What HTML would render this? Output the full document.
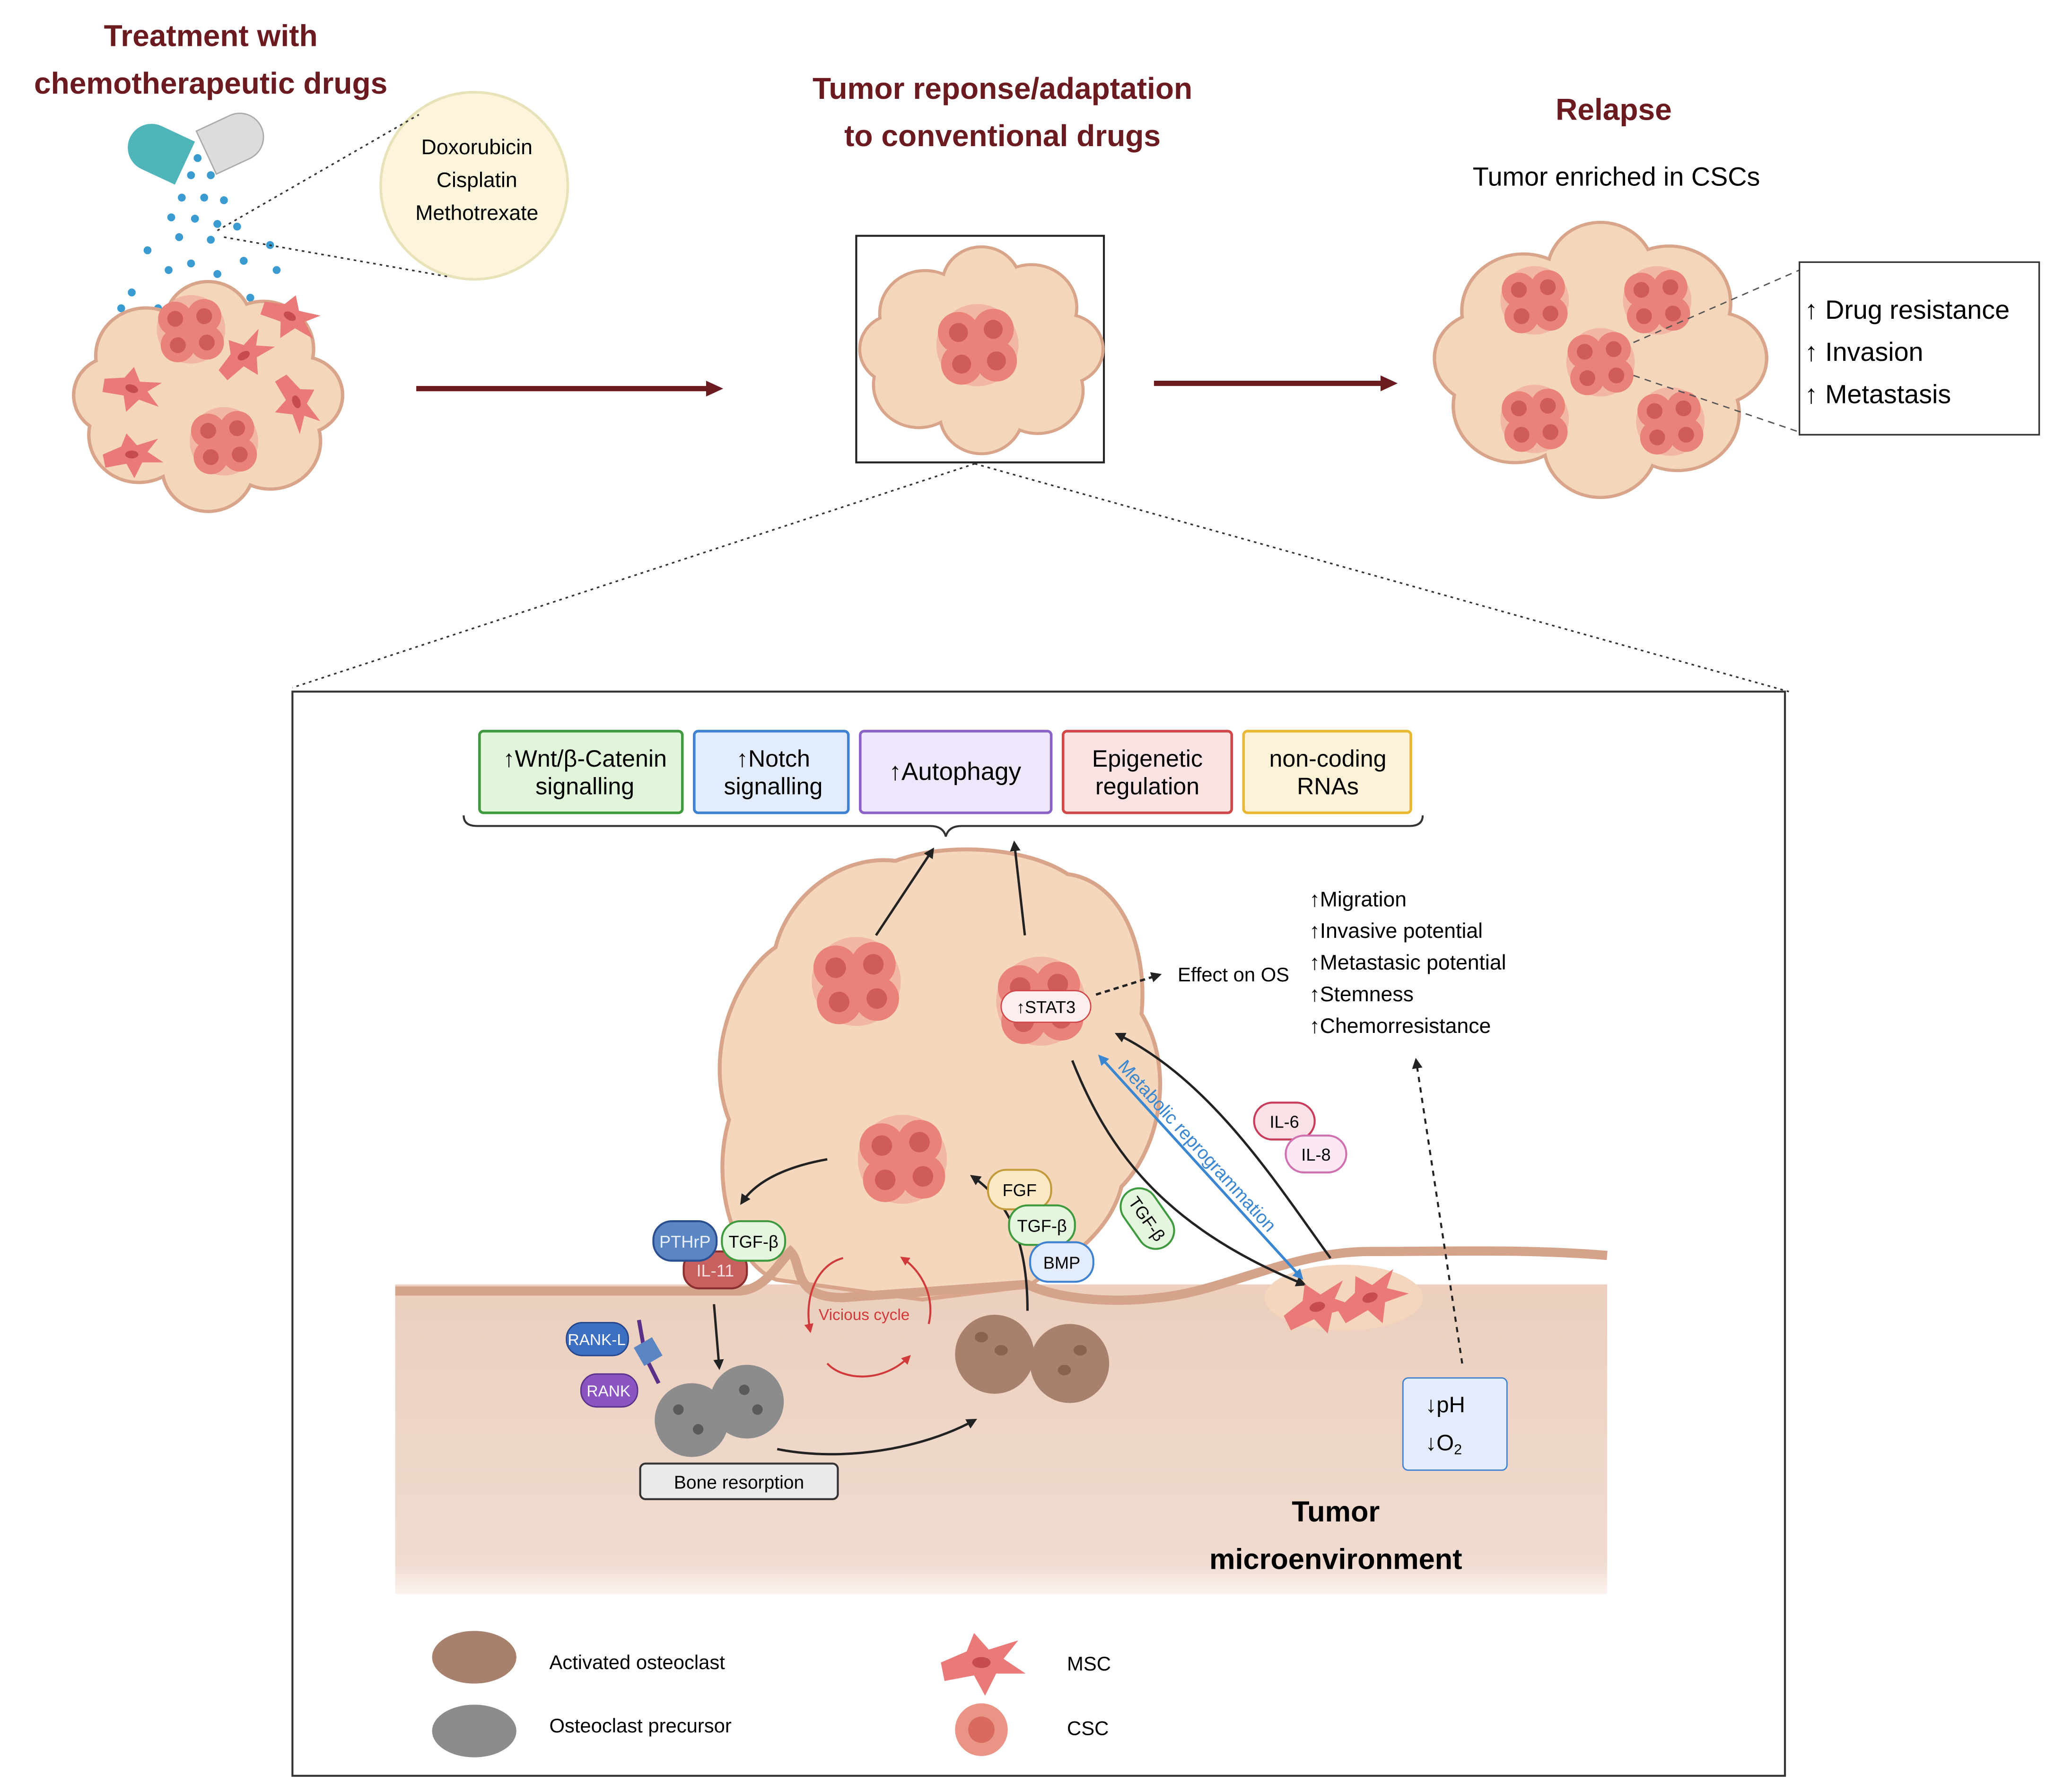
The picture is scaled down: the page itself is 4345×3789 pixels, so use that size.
<!DOCTYPE html>
<html><head><meta charset="utf-8"><style>
html,body{margin:0;padding:0;background:#fff}
svg{display:block}
text{font-family:"Liberation Sans",sans-serif}
</style></head><body>
<svg width="4345" height="3789" viewBox="0 0 1560 1360.3" preserveAspectRatio="none" xmlns="http://www.w3.org/2000/svg">
<defs>
<g id="csc">
 <circle cx="0" cy="0" r="26" fill="#f0a89a" opacity="0.7"/>
 <circle cx="-12" cy="-8" r="13" fill="#e98278"/><circle cx="10" cy="-10" r="13" fill="#e98278"/>
 <circle cx="-10" cy="12" r="13" fill="#e98278"/><circle cx="12" cy="10" r="13" fill="#e98278"/><circle cx="0" cy="0" r="12" fill="#e98278"/>
 <circle cx="-12" cy="-8" r="6" fill="#cf5c56"/><circle cx="10" cy="-10" r="6" fill="#cf5c56"/>
 <circle cx="-10" cy="12" r="6" fill="#cf5c56"/><circle cx="12" cy="10" r="6" fill="#cf5c56"/>
</g>
<g id="msc"><path d="M-22,0 L-8,-6 L-4,-16 L4,-7 L20,-12 L12,-2 L24,6 L8,6 L2,18 L-4,7 L-20,10 Z" fill="#ea7a78"/><ellipse cx="0" cy="0" rx="5" ry="3" fill="#c64c50"/></g>
<g id="blobS">
 <circle cx="0" cy="0" r="60"/><circle cx="-45" cy="-30" r="35"/><circle cx="40" cy="-35" r="35"/>
 <circle cx="-50" cy="30" r="35"/><circle cx="45" cy="35" r="35"/><circle cx="0" cy="-55" r="30"/><circle cx="0" cy="55" r="32"/>
 <circle cx="-68" cy="0" r="28"/><circle cx="68" cy="0" r="28"/>
</g>
<linearGradient id="bone" x1="0" y1="0" x2="0" y2="1"><stop offset="0" stop-color="#eccfbd"/><stop offset="0.9" stop-color="#f0dbd0"/><stop offset="1" stop-color="#fbf3ef"/></linearGradient>
<marker id="ar" markerWidth="8" markerHeight="8" refX="6" refY="4" orient="auto" markerUnits="userSpaceOnUse"><path d="M0,0 L8,4 L0,8 Z" fill="#222"/></marker>
<marker id="arB" markerWidth="8" markerHeight="8" refX="6" refY="4" orient="auto-start-reverse" markerUnits="userSpaceOnUse"><path d="M0,0 L8,4 L0,8 Z" fill="#3b86d0"/></marker>
<marker id="arR" markerWidth="7" markerHeight="7" refX="5" refY="3.5" orient="auto" markerUnits="userSpaceOnUse"><path d="M0,0 L7,3.5 L0,7 Z" fill="#d03a3a"/></marker>
</defs>

<g font-weight="bold" fill="#6b1a1f" font-size="23" text-anchor="middle">
<text x="160" y="35">Treatment with</text><text x="160" y="71">chemotherapeutic drugs</text>
<text x="761" y="75">Tumor reponse/adaptation</text><text x="761" y="111">to conventional drugs</text>
<text x="1225" y="91">Relapse</text>
</g>
<text x="1227" y="141" font-size="20" text-anchor="middle">Tumor enriched in CSCs</text>

<g transform="translate(115,112) rotate(25)">
<path d="M28,-18 L0,-18 A18,18 0 0 0 0,18 L28,18 Z" fill="#4fb5b8"/>
</g>
<g transform="translate(182,104) rotate(-25)">
<path d="M-28,-18 L0,-18 A18,18 0 0 1 0,18 L-28,18 Z" fill="#dcdcdc" stroke="#aaa"/>
</g>
<g fill="#3a9bd0">
<circle cx="150" cy="120" r="3"/><circle cx="145" cy="133" r="3"/><circle cx="160" cy="133" r="3"/><circle cx="138" cy="150" r="3"/><circle cx="155" cy="150" r="3"/><circle cx="170" cy="152" r="3"/><circle cx="130" cy="165" r="3"/><circle cx="148" cy="166" r="3"/><circle cx="165" cy="170" r="3"/><circle cx="180" cy="172" r="3"/><circle cx="136" cy="180" r="3"/><circle cx="160" cy="182" r="3"/><circle cx="205" cy="186" r="3"/><circle cx="112" cy="190" r="3"/><circle cx="145" cy="200" r="3"/><circle cx="185" cy="198" r="3"/><circle cx="128" cy="205" r="3"/><circle cx="165" cy="208" r="3"/><circle cx="210" cy="205" r="3"/><circle cx="100" cy="222" r="3"/><circle cx="145" cy="224" r="3"/><circle cx="190" cy="226" r="3"/><circle cx="120" cy="234" r="3"/><circle cx="203" cy="236" r="3"/><circle cx="92" cy="234" r="3"/><circle cx="140" cy="242" r="3"/>
</g>
<circle cx="360" cy="141" r="71" fill="#fcf5dc" stroke="#e8e2b8" stroke-width="2"/>
<g font-size="16" text-anchor="middle"><text x="362" y="117">Doxorubicin</text><text x="362" y="142">Cisplatin</text><text x="362" y="167">Methotrexate</text></g>
<g stroke="#333" stroke-dasharray="2,3" stroke-width="1.2"><line x1="165" y1="175" x2="318" y2="87"/><line x1="170" y1="180" x2="340" y2="210"/></g>

<g transform="translate(158,300) scale(1.05,1.0)"><use href="#blobS" fill="#f3d3b6" stroke="#d9a58a" stroke-width="5"/><use href="#blobS" fill="#f4d6bb"/></g>
<use href="#csc" transform="translate(145,250)"/><use href="#csc" transform="translate(170,335)"/>
<use href="#msc" transform="translate(100,295) rotate(20)"/><use href="#msc" transform="translate(185,270) rotate(-30)"/><use href="#msc" transform="translate(225,305) rotate(70)"/><use href="#msc" transform="translate(100,345)"/><use href="#msc" transform="translate(220,240) rotate(30)"/>

<line x1="316" y1="295" x2="538" y2="295" stroke="#6b1a1f" stroke-width="4"/><path d="M536,289 L549,295 L536,301 Z" fill="#6b1a1f"/>
<line x1="876" y1="291" x2="1050" y2="291" stroke="#6b1a1f" stroke-width="4"/><path d="M1048,285 L1061,291 L1048,297 Z" fill="#6b1a1f"/>

<rect x="650" y="179" width="188" height="172" fill="#fff" stroke="#222" stroke-width="1.5"/>
<g transform="translate(745,265) scale(0.95,0.9)"><use href="#blobS" fill="#f3d3b6" stroke="#d9a58a" stroke-width="5"/><use href="#blobS" fill="#f4d6bb"/></g>
<use href="#csc" transform="translate(742,262) scale(1.2)"/>

<g transform="translate(1215,272) scale(1.3,1.2)"><use href="#blobS" fill="#f3d3b6" stroke="#d9a58a" stroke-width="4"/><use href="#blobS" fill="#f4d6bb"/></g>
<use href="#csc" transform="translate(1165,228)"/><use href="#csc" transform="translate(1258,228)"/><use href="#csc" transform="translate(1215,275)"/><use href="#csc" transform="translate(1165,318)"/><use href="#csc" transform="translate(1268,320)"/>
<g stroke="#555" stroke-dasharray="5,4" stroke-width="1"><line x1="1240" y1="260" x2="1366" y2="205"/><line x1="1240" y1="285" x2="1366" y2="328"/></g>
<rect x="1366" y="199" width="182" height="131" fill="#fff" stroke="#333" stroke-width="1.2"/>
<g font-size="20"><text x="1370" y="242">↑ Drug resistance</text><text x="1370" y="274">↑ Invasion</text><text x="1370" y="306">↑ Metastasis</text></g>

<g stroke="#333" stroke-dasharray="2,3" stroke-width="1.2"><line x1="740" y1="352" x2="222" y2="522"/><line x1="740" y1="352" x2="1358" y2="525"/></g>
<rect x="222" y="525" width="1133" height="823" fill="#fff" stroke="#333" stroke-width="1.5"/>

<g font-size="18" text-anchor="middle">
<rect x="364" y="555" width="154" height="62" rx="3" fill="#e1f5da" stroke="#3f9a3f" stroke-width="2"/><text x="444" y="582">↑Wnt/β-Catenin</text><text x="444" y="603">signalling</text>
<rect x="527" y="555" width="117" height="62" rx="3" fill="#e2ecfc" stroke="#3f82d2" stroke-width="2"/><text x="587" y="582">↑Notch</text><text x="587" y="603">signalling</text>
<rect x="653" y="555" width="145" height="62" rx="3" fill="#eee6fa" stroke="#8a62c8" stroke-width="2"/><text x="725" y="592" font-size="19">↑Autophagy</text>
<rect x="807" y="555" width="128" height="62" rx="3" fill="#fbe3e3" stroke="#d04848" stroke-width="2"/><text x="871" y="582">Epigenetic</text><text x="871" y="603">regulation</text>
<rect x="944" y="555" width="127" height="62" rx="3" fill="#fdf1d8" stroke="#e8b830" stroke-width="2"/><text x="1008" y="582">non-coding</text><text x="1008" y="603">RNAs</text>
</g>
<path d="M352,619 Q352,627 362,627 L706,627 Q716,627 718,635 Q720,627 730,627 L1070,627 Q1080,627 1080,619" fill="none" stroke="#333" stroke-width="1.5"/>

<rect x="300" y="975" width="920" height="235" fill="url(#bone)"/>
<g fill="#f3d3b6" stroke="#d9a58a" stroke-width="6">
<path d="M590,970 C560,960 540,900 555,850 C535,800 560,740 590,720 C600,680 640,650 680,655 C720,640 780,645 810,665 C850,670 870,720 865,770 C890,810 880,870 850,900 C840,940 800,960 780,975 L700,985 Z"/>
</g>
<path d="M590,970 C560,960 540,900 555,850 C535,800 560,740 590,720 C600,680 640,650 680,655 C720,640 780,645 810,665 C850,670 870,720 865,770 C890,810 880,870 850,900 C840,940 800,960 780,975 L700,985 Z" fill="#f4d7bc"/>
<path d="M300,980 L560,980 C580,980 590,960 600,950 C610,960 600,985 640,985 L780,975 C800,985 840,990 880,985 C930,980 980,950 1040,950 C1100,950 1160,948 1220,953" fill="none" stroke="#d5a38a" stroke-width="7"/>
<ellipse cx="1020" cy="985" rx="60" ry="25" fill="#f3d6bd"/>
<use href="#csc" transform="translate(650,745) scale(1.3)"/><use href="#csc" transform="translate(790,760) scale(1.3)"/><use href="#csc" transform="translate(685,880) scale(1.3)"/>
<rect x="760" y="752" width="68" height="24" rx="12" fill="#fdeeee" stroke="#d04848"/><text x="794" y="769" font-size="13" text-anchor="middle">↑STAT3</text>

<g stroke="#222" stroke-width="1.8" fill="none" marker-end="url(#ar)">
<line x1="665" y1="710" x2="708" y2="645"/><line x1="778" y1="710" x2="770" y2="640"/>
<path d="M628,880 C600,885 575,895 563,913"/>
<path d="M814,805 C840,870 880,930 990,975"/>
<path d="M1010,955 C970,900 920,820 848,785"/>
<path d="M780,995 C780,950 770,915 738,893"/>
<path d="M542,990 L546,1038"/>
<path d="M590,1100 C640,1110 700,1100 740,1078"/>
</g>
<line x1="832" y1="755" x2="880" y2="740" stroke="#222" stroke-width="1.8" stroke-dasharray="4,3" marker-end="url(#ar)"/>
<line x1="1110" y1="1035" x2="1075" y2="805" stroke="#222" stroke-width="1.5" stroke-dasharray="4,4" marker-end="url(#ar)"/>
<line x1="835" y1="802" x2="988" y2="970" stroke="#3b86d0" stroke-width="2" marker-start="url(#arB)" marker-end="url(#arB)"/>
<text transform="translate(848,810) rotate(47.7)" font-size="14" fill="#3b86d0">Metabolic reprogrammation</text>
<text x="894" y="745" font-size="15">Effect on OS</text>
<g font-size="16"><text x="994" y="688">↑Migration</text><text x="994" y="712">↑Invasive potential</text><text x="994" y="736">↑Metastasic potential</text><text x="994" y="760">↑Stemness</text><text x="994" y="784">↑Chemorresistance</text></g>

<g font-size="13" text-anchor="middle">
<rect x="952" y="837" width="46" height="28" rx="14" fill="#fbe0e6" stroke="#c83c5a" stroke-width="1.5"/><text x="975" y="856">IL-6</text>
<rect x="976" y="862" width="46" height="28" rx="14" fill="#fbe8f4" stroke="#d070b0" stroke-width="1.5"/><text x="999" y="881">IL-8</text>
<rect x="750" y="888" width="48" height="30" rx="14" fill="#fbe9c6" stroke="#c49a3a" stroke-width="1.5"/><text x="774" y="908">FGF</text>
<rect x="766" y="915" width="50" height="30" rx="14" fill="#e4f6de" stroke="#3f9a3f" stroke-width="1.5"/><text x="791" y="935">TGF-β</text>
<rect x="782" y="943" width="48" height="30" rx="14" fill="#e2ecfc" stroke="#3f82d2" stroke-width="1.5"/><text x="806" y="963">BMP</text>
<g transform="translate(871,925) rotate(55)"><rect x="-25" y="-14" width="50" height="28" rx="14" fill="#e4f6de" stroke="#3f9a3f" stroke-width="1.5"/><text x="0" y="5">TGF-β</text></g>
<rect x="519" y="950" width="48" height="28" rx="12" fill="#c86060" stroke="#8a3030" stroke-width="1.5"/><text x="543" y="969" fill="#f4dede">IL-11</text>
<rect x="496" y="927" width="48" height="30" rx="14" fill="#5a86c4" stroke="#2a4f90" stroke-width="1.5"/><text x="520" y="947" fill="#e8eef8">PTHrP</text>
<rect x="548" y="927" width="48" height="30" rx="14" fill="#e4f6de" stroke="#3f9a3f" stroke-width="1.5"/><text x="572" y="947">TGF-β</text>
<rect x="430" y="1004" width="47" height="25" rx="12" fill="#3d6fc0" stroke="#23448a"/><text x="453" y="1021" fill="#fff" font-size="12">RANK-L</text>
<rect x="441" y="1043" width="43" height="25" rx="12" fill="#8a55c0" stroke="#5a3088"/><text x="462" y="1060" fill="#fff" font-size="12">RANK</text>
</g>
<path d="M485,1002 L490,1030 L500,1050" stroke="#5a3088" stroke-width="3" fill="none"/>
<rect x="484" y="1018" width="16" height="16" fill="#5a86c4" transform="rotate(-30 492 1026)"/>

<g stroke="#d03a3a" stroke-width="1.5" fill="none" marker-end="url(#arR)">
<path d="M640,955 C620,960 610,985 615,1010"/><path d="M628,1035 C640,1048 670,1050 690,1030"/><path d="M705,1005 C710,985 700,965 685,955"/>
</g>
<text x="656" y="1002" font-size="12" fill="#d03a3a" text-anchor="middle">Vicious cycle</text>

<g fill="#a8806e"><circle cx="755" cy="1028" r="30"/><circle cx="812" cy="1035" r="30"/></g>
<g fill="#8a6250"><ellipse cx="745" cy="1015" rx="5" ry="4"/><ellipse cx="760" cy="1025" rx="5" ry="4"/><ellipse cx="820" cy="1025" rx="5" ry="4"/><ellipse cx="808" cy="1040" rx="5" ry="4"/></g>
<g fill="#8c8c8c"><circle cx="525" cy="1078" r="28"/><circle cx="567" cy="1064" r="28"/></g>
<g fill="#5a5a5a"><ellipse cx="515" cy="1070" rx="4" ry="4"/><ellipse cx="530" cy="1085" rx="4" ry="4"/><ellipse cx="565" cy="1055" rx="4" ry="4"/><ellipse cx="575" cy="1070" rx="4" ry="4"/></g>
<use href="#msc" transform="translate(1000,992) rotate(-15) scale(1.2)"/><use href="#msc" transform="translate(1040,985) rotate(-20) scale(1.2)"/>

<rect x="486" y="1111" width="150" height="27" rx="4" fill="#eaeaea" stroke="#333" stroke-width="1.5"/><text x="561" y="1130" font-size="14" text-anchor="middle">Bone resorption</text>
<rect x="1065" y="1046" width="79" height="70" rx="4" fill="#e4ecfb" stroke="#3f82d2" stroke-width="1"/>
<g font-size="17"><text x="1082" y="1072">↓pH</text><text x="1082" y="1101">↓O<tspan font-size="11" dy="3">2</tspan></text></g>
<g font-size="22" font-weight="bold" text-anchor="middle"><text x="1014" y="1155">Tumor</text><text x="1014" y="1191">microenvironment</text></g>

<ellipse cx="360" cy="1258" rx="32" ry="20" fill="#a8806e"/><ellipse cx="360" cy="1314" rx="32" ry="20" fill="#8c8c8c"/>
<use href="#msc" transform="translate(745,1262) scale(1.4)"/>
<g transform="translate(745,1313)"><circle r="20" fill="#ea9486"/><circle r="10" fill="#d86a60"/></g>
<g font-size="15"><text x="417" y="1267">Activated osteoclast</text><text x="417" y="1315">Osteoclast precursor</text><text x="810" y="1268">MSC</text><text x="810" y="1317">CSC</text></g>
</svg>
</body></html>
